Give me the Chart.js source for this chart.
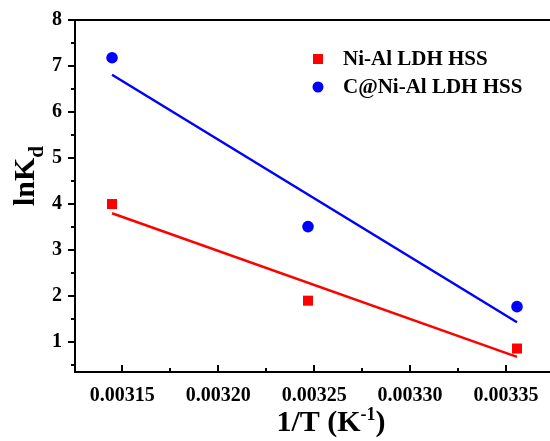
<!DOCTYPE html>
<html>
<head>
<meta charset="utf-8">
<script src="https://cdn.jsdelivr.net/npm/chart.js@4"></script>
<style>
  html, body { margin: 0; padding: 0; background: #fff; }
  #wrap { width: 550px; height: 441px; }
</style>
</head>
<body>
<div id="wrap"><canvas id="c" width="550" height="441"></canvas></div>
<script>
// ---- data ----
const invT = [0.0031447, 0.0032468, 0.0033557];          // 1/T (K^-1)
const niAl = [4.00, 1.90, 0.86];                           // Ni-Al LDH HSS lnKd
const cNiAl = [7.18, 3.51, 1.77];                          // C@Ni-Al LDH HSS lnKd
const fitX = [0.0031447, 0.0033557];                       // fit line ends
const niAlFit = [3.80, 0.68];
const cNiAlFit = [6.81, 1.43];
const xTicks = [0.00315, 0.00320, 0.00325, 0.00330, 0.00335];
const xMinorTicks = [0.003175, 0.003225, 0.003275, 0.003325];
const yTicks = [1, 2, 3, 4, 5, 6, 7, 8];
const yMinorTicks = [0.5, 1.5, 2.5, 3.5, 4.5, 5.5, 6.5, 7.5];
const seriesNames = ['Ni-Al LDH HSS', 'C@Ni-Al LDH HSS'];

const FONT = "'Liberation Serif', 'Times New Roman', serif";
const RED = '#ff0000', BLUE = '#0000ff';

const pts = (xs, ys) => xs.map((x, i) => ({x, y: ys[i]}));

const decor = {
  id: 'decor',
  afterDraw(chart) {
    const ctx = chart.ctx, a = chart.chartArea;
    const xs = chart.scales.x, ys = chart.scales.y;
    ctx.save();
    ctx.strokeStyle = '#000';
    ctx.lineWidth = 2;
    // top frame line
    ctx.beginPath(); ctx.moveTo(a.left - 1, a.top); ctx.lineTo(a.right, a.top); ctx.stroke();
    // y ticks (outward)
    ctx.beginPath();
    yTicks.forEach(v => { const p = Math.round(ys.getPixelForValue(v)); ctx.moveTo(a.left - 7, p); ctx.lineTo(a.left, p); });
    yMinorTicks.forEach(v => { const p = Math.round(ys.getPixelForValue(v)); ctx.moveTo(a.left - 4, p); ctx.lineTo(a.left, p); });
    // x ticks (inward)
    xTicks.forEach(v => { const p = Math.round(xs.getPixelForValue(v)); ctx.moveTo(p, a.bottom); ctx.lineTo(p, a.bottom - 7); });
    xMinorTicks.forEach(v => { const p = Math.round(xs.getPixelForValue(v)); ctx.moveTo(p, a.bottom); ctx.lineTo(p, a.bottom - 4); });
    ctx.stroke();

    // x title: 1/T (K-1)
    ctx.fillStyle = '#000';
    ctx.textBaseline = 'alphabetic';
    ctx.textAlign = 'left';
    const big = 'bold 30px ' + FONT, sup = 'bold 18px ' + FONT;
    ctx.font = big; const w1 = ctx.measureText('1/T (K').width, w3 = ctx.measureText(')').width;
    ctx.font = sup; const w2 = ctx.measureText('-1').width;
    let x0 = 331 - (w1 + w2 + w3) / 2, base = 431;
    ctx.font = big; ctx.fillText('1/T (K', x0, base);
    ctx.font = sup; ctx.fillText('-1', x0 + w1, base - 11);
    ctx.font = big; ctx.fillText(')', x0 + w1 + w2, base);

    // y title: lnKd (rotated)
    ctx.save();
    ctx.translate(34, 176);
    ctx.rotate(-Math.PI / 2);
    ctx.font = big; const m1 = ctx.measureText('lnK').width;
    ctx.font = 'bold 21px ' + FONT; const m2 = ctx.measureText('d').width;
    const s = -(m1 + m2) / 2;
    ctx.font = big; ctx.fillText('lnK', s, 0);
    ctx.font = 'bold 21px ' + FONT; ctx.fillText('d', s + m1, 9);
    ctx.restore();

    // legend
    ctx.font = 'bold 21px ' + FONT;
    ctx.textBaseline = 'middle';
    ctx.fillStyle = RED; ctx.fillRect(313, 54, 10, 10);
    ctx.fillStyle = BLUE; ctx.beginPath(); ctx.arc(318, 87, 5.5, 0, Math.PI * 2); ctx.fill();
    ctx.fillStyle = '#000';
    ctx.fillText(seriesNames[0], 343, 60);
    ctx.fillText(seriesNames[1], 343, 88);
    ctx.restore();
  }
};

new Chart(document.getElementById('c'), {
  type: 'scatter',
  data: {
    datasets: [
      { label: seriesNames[0] + ' fit', type: 'line', data: pts(fitX, niAlFit), borderColor: RED, borderWidth: 2.5, pointRadius: 0, fill: false },
      { label: seriesNames[1] + ' fit', type: 'line', data: pts(fitX, cNiAlFit), borderColor: BLUE, borderWidth: 2.5, pointRadius: 0, fill: false },
      { label: seriesNames[0], data: pts(invT, niAl), pointStyle: 'rect', pointRadius: 7.1, backgroundColor: RED, borderColor: RED, borderWidth: 0 },
      { label: seriesNames[1], data: pts(invT, cNiAl), pointStyle: 'circle', pointRadius: 5.8, backgroundColor: BLUE, borderColor: BLUE, borderWidth: 0 }
    ]
  },
  options: {
    responsive: false,
    animation: false,
    events: [],
    layout: { autoPadding: false, padding: { top: 20, right: 0, left: 0, bottom: 0 } },
    plugins: { legend: { display: false }, tooltip: { enabled: false } },
    scales: {
      x: {
        type: 'linear',
        min: 0.0031254, max: 0.0033729,
        afterBuildTicks: s => { s.ticks = xTicks.map(v => ({value: v})); },
        afterFit: s => { s.height = 69; s.paddingLeft = 0; s.paddingRight = 0; },
        grid: { display: true, drawOnChartArea: false, drawTicks: false },
        border: { display: true, color: '#000', width: 2 },
        ticks: { color: '#000', padding: 12, maxRotation: 0, autoSkip: false,
                 font: { family: FONT, size: 20, weight: 'bold' },
                 callback: v => Number(v).toFixed(5) }
      },
      y: {
        type: 'linear',
        min: 0.35, max: 8,
        afterBuildTicks: s => { s.ticks = yTicks.map(v => ({value: v})); },
        afterFit: s => { s.width = 75; s.paddingTop = 0; s.paddingBottom = 0; },
        grid: { display: true, drawOnChartArea: false, drawTicks: false },
        border: { display: true, color: '#000', width: 2 },
        ticks: { color: '#000', padding: 13, autoSkip: false,
                 font: { family: FONT, size: 20, weight: 'bold' },
                 callback: v => String(v) }
      }
    }
  },
  plugins: [decor]
});
</script>
</body>
</html>
